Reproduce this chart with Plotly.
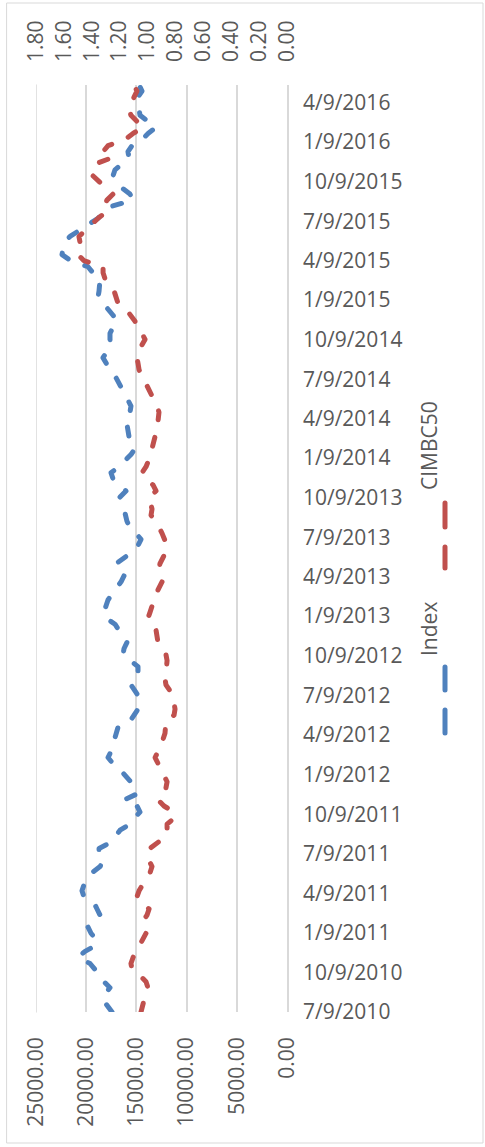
import pandas as pd
import plotly.graph_objects as go

# 14-day observations, first one on 7/9/2010
dates = pd.date_range("2010-07-09", periods=154, freq="14D")

index_vals = [
    17430, 17830, 18330, 18130, 17630, 18230, 18820, 19120, 19620, 20820,
    20120, 19020, 19020, 19520, 19820, 19020, 18620, 18920, 19220, 20220,
    20420, 20220, 19820, 19420, 18620, 18330, 18720, 18720, 17530, 17030,
    16630, 15640, 15240, 14640, 14940, 16230, 14940, 15040, 15540, 16040,
    16630, 17330, 17830, 17530, 17330, 17130, 16930, 16830, 15640, 15240,
    14840, 14640, 14740, 15140, 15540, 15340, 14840, 14840, 15540, 16330,
    16230, 15940, 16330, 16730, 17130, 18030, 18230, 18030, 17830, 17430,
    16930, 16530, 16230, 16430, 17030, 16230, 15340, 14840, 14540, 15040,
    15640, 15940, 16040, 16230, 16430, 16630, 16040, 16630, 17330, 17530,
    16730, 16140, 15540, 15140, 15340, 15740, 15840, 16040, 16040, 15640,
    15540, 15840, 16140, 16430, 16730, 17130, 17630, 18030, 18330, 17930,
    17530, 17630, 17630, 17330, 16930, 17330, 17830, 18330, 18820, 18720,
    18620, 18620, 19320, 19820, 21510, 22410, 22310, 22200, 21610, 20720,
    19820, 18820, 18230, 17430, 15340, 15640, 16430, 16930, 17330, 17130,
    16430, 15740, 15840, 15440, 14440, 13840, 13050, 13940, 14640, 14740,
    14840, 14840, 14440, 14740,
]

cimb_vals = [
    1.047, 1.040, 1.025, 1.011, 0.997, 1.011, 1.054, 1.111, 1.119, 1.104,
    1.083, 1.061, 1.032, 1.011, 1.018, 1.032, 1.004, 0.989, 1.047, 1.076,
    1.061, 1.040, 1.011, 0.982, 0.968, 0.989, 1.004, 0.982, 0.925, 0.868,
    0.860, 0.860, 0.810, 0.810, 0.882, 0.925, 0.896, 0.868, 0.860, 0.882,
    0.896, 0.925, 0.946, 0.925, 0.903, 0.889, 0.875, 0.875, 0.868, 0.810,
    0.803, 0.810, 0.825, 0.839, 0.868, 0.875, 0.868, 0.860, 0.860, 0.868,
    0.903, 0.925, 0.932, 0.939, 0.961, 0.997, 0.982, 0.968, 0.961, 0.939,
    0.918, 0.896, 0.903, 0.918, 0.911, 0.889, 0.868, 0.860, 0.875, 0.896,
    0.918, 0.946, 0.975, 0.968, 0.982, 0.989, 0.939, 0.961, 1.011, 1.040,
    1.011, 0.989, 0.975, 0.968, 0.961, 0.946, 0.932, 0.925, 0.925, 0.918,
    0.932, 0.954, 0.975, 0.997, 1.025, 1.047, 1.061, 1.068, 1.076, 1.068,
    1.047, 1.018, 1.040, 1.076, 1.090, 1.119, 1.154, 1.212, 1.226, 1.240,
    1.269, 1.305, 1.319, 1.319, 1.456, 1.499, 1.506, 1.484, 1.492, 1.448,
    1.398, 1.355, 1.298, 1.312, 1.291, 1.248, 1.298, 1.348, 1.391, 1.405,
    1.370, 1.255, 1.319, 1.283, 1.162, 1.104, 1.032, 1.076, 1.119, 1.133,
    1.119, 1.097, 1.076, 1.097,
]

date_ticks = [
    "2010-07-09", "2010-10-09", "2011-01-09", "2011-04-09", "2011-07-09",
    "2011-10-09", "2012-01-09", "2012-04-09", "2012-07-09", "2012-10-09",
    "2013-01-09", "2013-04-09", "2013-07-09", "2013-10-09", "2014-01-09",
    "2014-04-09", "2014-07-09", "2014-10-09", "2015-01-09", "2015-04-09",
    "2015-07-09", "2015-10-09", "2016-01-09", "2016-04-09",
]
date_labels = [f"{d.month}/{d.day}/{d.year}" for d in pd.to_datetime(date_ticks)]

BLUE = "#4F81BD"
RED = "#C0504D"
GRID = "#D9D9D9"
TXT = "#595959"
FONT = "Open Sans"
DASH = "9px,18px"

fig = go.Figure()
fig.add_trace(go.Scatter(x=index_vals, y=dates, mode="lines", name="Index",
                         line=dict(color=BLUE, width=5, dash=DASH),
                         xaxis="x", yaxis="y"))
fig.add_trace(go.Scatter(x=cimb_vals, y=dates, mode="lines", name="CIMBC50",
                         line=dict(color=RED, width=5, dash=DASH),
                         xaxis="x2", yaxis="y"))

# plot area in pixels: x 36..287, y 85..1012
L, R, T, B = 36, 287, 85, 1012
W, H = R - L, B - T
def px(x):
    return (x - L) / W
def py(y):
    return (B - y) / H

shapes = [
    # chart border
    dict(type="rect", xref="paper", yref="paper", x0=px(7), x1=px(483),
         y0=py(1143), y1=py(3), line=dict(color=GRID, width=1)),
    # gridline on the left edge (25000)
    dict(type="line", xref="x", yref="paper", x0=25000, x1=25000, y0=0, y1=1,
         line=dict(color=GRID, width=1.5), layer="below"),
]
# rotated legend: two dash samples per series
for c, segs in [(BLUE, [(667, 690), (710, 733)]), (RED, [(503, 527), (547, 568)])]:
    for a, b in segs:
        shapes.append(dict(type="line", xref="paper", yref="paper",
                           x0=px(445), x1=px(445), y0=py(a), y1=py(b),
                           line=dict(color=c, width=5)))

annotations = [
    dict(text="Index", x=px(445), y=py(629), xref="paper", yref="paper",
         textangle=-90, showarrow=False, font=dict(family=FONT, size=21, color=TXT)),
    dict(text="CIMBC50", x=px(445), y=py(446), xref="paper", yref="paper",
         textangle=-90, showarrow=False, font=dict(family=FONT, size=21, color=TXT)),
]

fig.update_layout(
    width=485, height=1147,
    margin=dict(l=L, r=485 - R, t=T, b=1147 - B),
    paper_bgcolor="white", plot_bgcolor="white",
    showlegend=False,
    font=dict(family=FONT, size=21, color=TXT),
    xaxis=dict(range=[25000, 0], dtick=5000, tick0=0, tickformat=".2f",
               tickangle=-90, showgrid=True, gridcolor=GRID, gridwidth=1.5,
               zeroline=False, showline=False, ticks="", ticklabelstandoff=20),
    xaxis2=dict(range=[1.8, 0], dtick=0.2, tick0=0, tickformat=".2f",
                tickangle=-90, overlaying="x", side="top", showgrid=False,
                zeroline=False, showline=False, ticks="", ticklabelstandoff=22),
    yaxis=dict(type="date", range=["2010-07-09", "2016-05-20"], side="right",
               tickvals=date_ticks, ticktext=date_labels, showgrid=False,
               zeroline=False, showline=True, linecolor=GRID, linewidth=1.5,
               ticks="", ticklabelstandoff=10),
    shapes=shapes,
    annotations=annotations,
)

post = """
document.body.style.margin = '0';
document.querySelectorAll('.scatterlayer .js-line, .shapelayer path').forEach(function(p){
    p.style.strokeLinecap = 'round';
    p.style.strokeLinejoin = 'round';
});
"""
fig.write_html("out.html", post_script=post, config={"displayModeBar": False})
